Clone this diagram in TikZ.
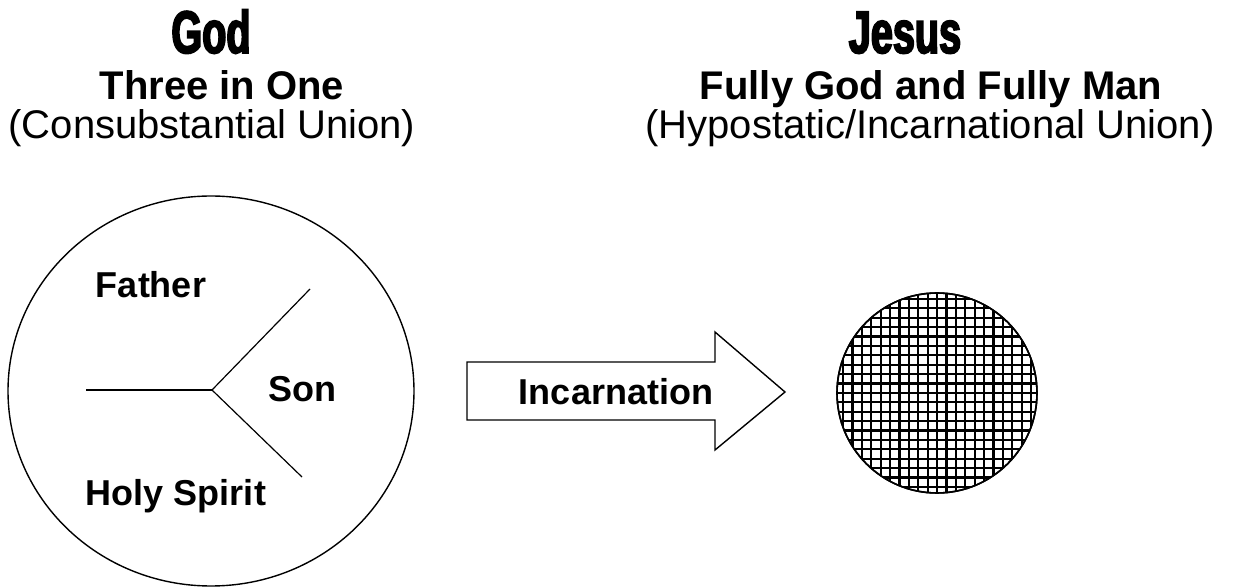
\documentclass[tikz,border=0pt]{standalone}
\usepackage{fontspec}
\setmainfont{Liberation Sans}
\newfontfamily\impactfont[FakeStretch=0.66,FakeBold=3,UprightFont={* Bold}]{Liberation Sans}
\usetikzlibrary{positioning,shapes.geometric}

\begin{document}
\begin{tikzpicture}[
    x=0.5pt, y=-0.5pt,
    titlelbl/.style={font=\impactfont\fontsize{30}{32}\selectfont, anchor=base, inner sep=0pt},
    sublbl/.style={font=\bfseries\fontsize{20}{24}\selectfont, anchor=base, inner sep=0pt},
    unionlbl/.style={font=\fontsize{20}{24}\selectfont, anchor=base, inner sep=0pt},
    personlbl/.style={font=\bfseries\fontsize{18}{22}\selectfont, anchor=base, inner sep=0pt},
    godhead/.style={ellipse, draw, line width=0.7pt, minimum width=203pt, minimum height=195pt, inner sep=0pt},
    incarnate/.style={circle, draw, line width=0.8pt, minimum size=100pt, inner sep=0pt},
    arrowbox/.style={draw, line width=0.7pt, fill=white, line join=miter},
    branch/.style={line width=0.6pt}
  ]
    \useasboundingbox (0,0) rectangle (1239,588);

    % --- Headings ---
    \node[titlelbl] (god) at (211,53) {God};
    \node[sublbl] (threeone) at (222,100) {Three in One};
    \node[unionlbl] (consub) at (212,139) {(Consubstantial Union)};

    \node[titlelbl] (jesus) at (905,53) {Jesus};
    \node[sublbl] (fullygod) at (931,100) {Fully God and Fully Man};
    \node[unionlbl] (hypo) at (930,139) {(Hypostatic/Incarnational Union)};

    % --- Trinity circle ---
    \node[godhead] (trinity) at (211,391) {};
    \coordinate (hub) at (212,390);
    \coordinate (westend) at (86,390);
    \coordinate (upend) at (310,289);
    \coordinate (downend) at (302,477);
    \draw[branch] (westend) -- (hub);
    \draw[branch] (hub) -- (upend);
    \draw[branch] (hub) -- (downend);

    \node[personlbl] (father) at (151,298) {Father};
    \node[personlbl] (son) at (302,402) {Son};
    \node[personlbl] (spirit) at (176,506) {Holy Spirit};

    % --- Incarnation arrow ---
    \draw[arrowbox] (467,362) -- (715,362) -- (715,332) -- (785,392)
      -- (715,450) -- (715,420) -- (467,420) -- cycle;
    \node[personlbl] (incarn) at (616,405) {Incarnation};

    % --- Hatched circle (Jesus) ---
    \node[incarnate] (christ) at (937,393) {};
    \begin{scope}
      \clip (937,393) circle (100);
      \foreach \k in {-11,...,11} {
        \draw[line width=1.1pt] (937+\k*9.4,280) -- (937+\k*9.4,506);
        \draw[line width=1.1pt] (824,393+\k*9.4) -- (1050,393+\k*9.4);
      }
    \end{scope}
    \draw[line width=0.8pt] (christ.center) circle (100);
\end{tikzpicture}
\end{document}
